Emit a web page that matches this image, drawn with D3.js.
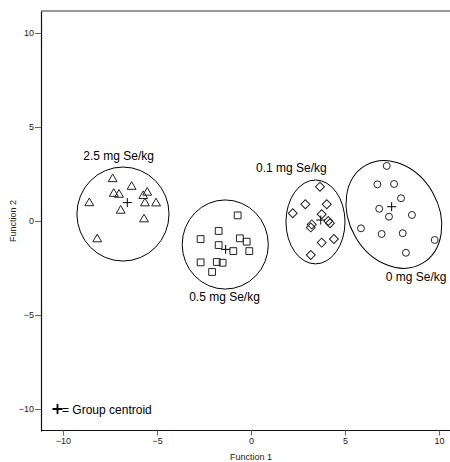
<!DOCTYPE html>
<html><head><meta charset="utf-8">
<script src="https://cdn.jsdelivr.net/npm/d3@7"></script>
<style>body{margin:0;background:#fff}svg{display:block;font-family:Arial,"Liberation Sans",sans-serif}</style>
</head><body><div id="chart"></div>
<script>
// ---- data (Function 1, Function 2) ----
const groups = ["0 mg Se/kg", "0.1 mg Se/kg", "0.5 mg Se/kg", "2.5 mg Se/kg"];
const g25x = [-7.36,-6.35,-7.30,-7.02,-5.52,-5.73,-8.60,-5.64,-5.05,-6.93,-5.69,-8.18];
const g25y = [ 2.23, 1.82, 1.45, 1.40, 1.51, 1.33, 0.95, 0.94, 0.94, 0.55, 0.09,-0.97];
const g05x = [-0.71,-1.72,-2.68,-0.59,-0.23,-1.72,-0.94,-0.09,-2.68,-1.82,-1.51,-2.07];
const g05y = [ 0.30,-0.53,-0.96,-0.92,-1.10,-1.28,-1.60,-1.60,-2.20,-2.18,-2.22,-2.71];
const g01x = [3.67,2.89,4.03,2.22,3.76,3.23,3.18,4.11,4.20,3.76,4.41,3.18];
const g01y = [1.82,0.89,0.89,0.41,0.36,-0.18,-0.34,0.00,-0.12,-1.15,-0.96,-1.81];
const g0x  = [7.22,6.72,7.61,7.98,6.82,7.34,8.56,5.85,6.95,8.07,9.77,8.24];
const g0y  = [2.93,1.95,1.97,1.21,0.65,0.23,0.32,-0.39,-0.69,-0.65,-1.01,-1.69];
const centroidX = [7.48, 3.71, -1.35, -6.58];
const centroidY = [0.76, 0.05, -1.51, 0.98];
// group ellipses: centre, semi-axes (data units), rotation (deg)
const ellCx = [7.60, 3.43, -1.37, -6.81];
const ellCy = [0.35, -0.05, -1.25, 0.37];
const ellRx = [3.01, 1.57, 2.29, 2.45];
const ellRy = [2.37, 2.23, 2.37, 2.50];
const ellRot = [60, 0, 0, 0];
// label anchor points (data units)
const labX = [8.78, 2.15, -1.41, -7.04];
const labY = [-3.21, 2.60, -4.27, 3.23];
const ticks = [-10, -5, 0, 5, 10];

const W = 450, H = 462;
const svg = d3.select("#chart").append("svg").attr("width", W).attr("height", H);
const x = d3.scaleLinear().domain([-11.17, 11.17]).range([41, 461]);
const y = d3.scaleLinear().domain([-11.17, 11.17]).range([431, 11]);
const k = x(1) - x(0);

// frame
svg.append("line").attr("x1", 41).attr("x2", W).attr("y1", 11).attr("y2", 11)
  .attr("stroke", "#999").attr("stroke-width", 2);

const xAxis = svg.append("g").attr("transform", "translate(0,430.5)")
  .call(d3.axisBottom(x).tickValues(ticks).tickSize(5).tickSizeOuter(0).tickPadding(2));
const yAxis = svg.append("g").attr("transform", "translate(41,0)")
  .call(d3.axisLeft(y).tickValues(ticks).tickSize(6).tickSizeOuter(0).tickPadding(1));
[xAxis, yAxis].forEach(a => {
  a.select(".domain").attr("stroke", "#111").attr("stroke-width", 1.2);
  a.selectAll(".tick line").attr("stroke", "#666");
  a.selectAll(".tick text").attr("font-size", 9).attr("fill", "#222")
    .attr("font-family", "Arial, 'Liberation Sans', sans-serif");
});
xAxis.select(".domain").attr("d", `M41,0H${W}`);

svg.append("text").attr("x", x(0)).attr("y", 460).attr("text-anchor", "middle")
  .attr("font-size", 9).attr("fill", "#222").text("Function 1");
svg.append("text").attr("transform", `translate(16,${y(0)}) rotate(-90)`)
  .attr("text-anchor", "middle").attr("font-size", 9).attr("fill", "#222").text("Function 2");

// ellipses
groups.forEach((g, i) => {
  svg.append("ellipse")
    .attr("transform", `translate(${x(ellCx[i])},${y(ellCy[i])}) rotate(${ellRot[i]})`)
    .attr("rx", ellRx[i] * k).attr("ry", ellRy[i] * k)
    .attr("fill", "none").attr("stroke", "#000").attr("stroke-width", 1);
});

// points
const sets = [
  {xs: g0x, ys: g0y, sym: d3.symbolCircle, size: 38, rot: 0},
  {xs: g01x, ys: g01y, sym: d3.symbolSquare, size: 40, rot: 45},
  {xs: g05x, ys: g05y, sym: d3.symbolSquare, size: 46, rot: 0},
  {xs: g25x, ys: g25y, sym: d3.symbolTriangle, size: 34, rot: 0}
];
sets.forEach(s => {
  svg.append("g").selectAll("path").data(d3.range(s.xs.length)).join("path")
    .attr("transform", j => `translate(${x(s.xs[j])},${y(s.ys[j])}) rotate(${s.rot})`)
    .attr("d", d3.symbol().type(s.sym).size(s.size))
    .attr("fill", "none").attr("stroke", "#222").attr("stroke-width", 1);
});

// centroids
const plus = d3.symbol().type(d3.symbolCross);
svg.append("g").selectAll("path").data(d3.range(centroidX.length)).join("path")
  .attr("transform", j => `translate(${x(centroidX[j])},${y(centroidY[j])})`)
  .attr("d", "M-4.5,0H4.5M0,-4.5V4.5")
  .attr("stroke", "#000").attr("stroke-width", 1).attr("fill", "none");

// group labels
svg.append("g").selectAll("text").data(groups).join("text")
  .attr("x", (d, i) => x(labX[i])).attr("y", (d, i) => y(labY[i]))
  .attr("text-anchor", "middle").attr("font-size", 12).attr("fill", "#000").text(d => d);

// legend
svg.append("path").attr("transform", `translate(57.5,${y(-10)})`)
  .attr("d", "M-5,0H5M0,-5V5").attr("stroke", "#000").attr("stroke-width", 1.8);
svg.append("text").attr("x", 62).attr("y", y(-10) + 4.5).attr("font-size", 12)
  .attr("fill", "#000").text("= Group centroid");
</script></body></html>
